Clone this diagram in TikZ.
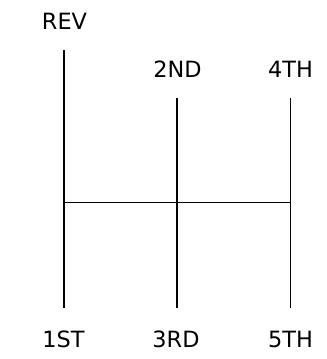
\documentclass[tikz,border=0pt]{standalone}
\usepackage{fontspec}
\setmainfont{DejaVu Sans}
\begin{document}
\begin{tikzpicture}[x=0.75pt,y=-0.75pt,
  lbl/.style={anchor=base,inner sep=0pt,font=\fontsize{16.8}{20}\selectfont},
  bar/.style={line width=1.2pt,black}]
\useasboundingbox (0,0) rectangle (327,359);
\node[lbl] (rev) at (64.5,29.3) {REV};
\node[lbl] (second) at (177.5,78) {2ND};
\node[lbl] (fourth) at (290.5,78) {4TH};
\node[lbl] (first) at (63.5,347) {1ST};
\node[lbl] (third) at (176,347) {3RD};
\node[lbl] (fifth) at (290.5,347) {5TH};
\coordinate (t1) at (64,50);
\coordinate (t2) at (177,98);
\coordinate (t3) at (290.5,98);
\coordinate (b1) at (64,308);
\coordinate (b2) at (177,308);
\coordinate (b3) at (290.5,308);
\coordinate (m1) at (64,202.5);
\coordinate (m3) at (290.5,202.5);
\draw[bar] (t1) -- (b1);
\draw[bar] (t2) -- (b2);
\draw[bar] (t3) -- (b3);
\draw[bar] (m1) -- (m3);
\end{tikzpicture}
\end{document}
